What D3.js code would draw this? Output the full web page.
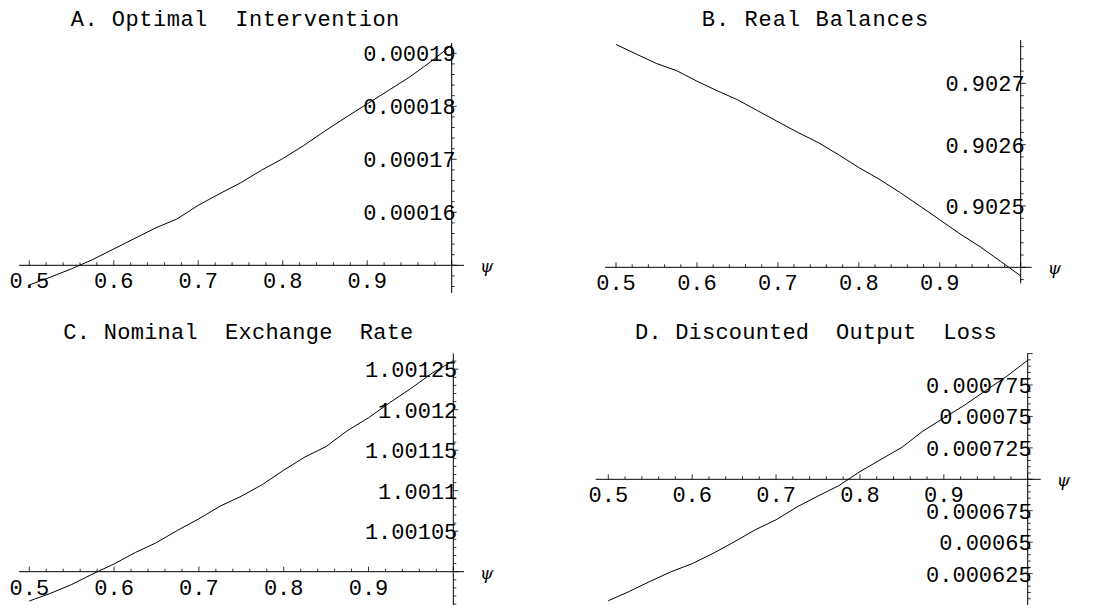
<!DOCTYPE html>
<html>
<head>
<meta charset="utf-8">
<script src="https://cdn.jsdelivr.net/npm/d3@7"></script>
<style>
  body { margin: 0; background: #fff; }
  text { font-family: "Liberation Mono", "Courier New", monospace; fill: #000; }
</style>
</head>
<body>
<svg id="chart" width="1103" height="608"></svg>
<script>
'use strict';

// psi grid
var psi = [0.5, 0.525, 0.55, 0.575, 0.6, 0.625, 0.65, 0.675, 0.7, 0.725, 0.75,
           0.775, 0.8, 0.825, 0.85, 0.875, 0.9, 0.925, 0.95, 0.975, 1.0];

var intervention = [1.4629e-4, 1.4777e-4, 1.4934e-4, 1.5108e-4, 1.5308e-4, 1.5509e-4, 1.5708e-4,
                    1.5876e-4, 1.6132e-4, 1.6349e-4, 1.6555e-4, 1.6796e-4, 1.7013e-4, 1.7261e-4,
                    1.7535e-4, 1.7794e-4, 1.8046e-4, 1.8297e-4, 1.8550e-4, 1.8838e-4, 1.9157e-4];

var realBalances = [0.9027636, 0.9027478, 0.9027325, 0.9027207, 0.9027036, 0.9026880, 0.9026734,
                    0.9026554, 0.9026375, 0.9026198, 0.9026034, 0.9025837, 0.9025627, 0.9025439,
                    0.9025228, 0.9025004, 0.9024776, 0.9024545, 0.9024334, 0.9024099, 0.9023859];

var exchangeRate = [1.0009638, 1.0009733, 1.0009842, 1.0009973, 1.0010096, 1.0010237, 1.0010359,
                    1.0010512, 1.0010653, 1.0010809, 1.0010932, 1.0011077, 1.0011253, 1.0011416,
                    1.0011545, 1.0011741, 1.0011900, 1.0012086, 1.0012262, 1.0012451, 1.0012605];

var outputLoss = [6.034e-4, 6.108e-4, 6.189e-4, 6.265e-4, 6.329e-4, 6.411e-4, 6.502e-4,
                  6.598e-4, 6.678e-4, 6.780e-4, 6.867e-4, 6.950e-4, 7.061e-4, 7.158e-4,
                  7.254e-4, 7.383e-4, 7.488e-4, 7.591e-4, 7.706e-4, 7.819e-4, 7.947e-4];

var titles = ["A. Optimal  Intervention", "B. Real Balances",
              "C. Nominal  Exchange  Rate", "D. Discounted  Output  Loss"];

var xTicks = [0.5, 0.6, 0.7, 0.8, 0.9];
var xTickLabels = ["0.5", "0.6", "0.7", "0.8", "0.9"];

var aTicks = [0.00016, 0.00017, 0.00018, 0.00019];
var aTickLabels = ["0.00016", "0.00017", "0.00018", "0.00019"];
var bTicks = [0.9025, 0.9026, 0.9027];
var bTickLabels = ["0.9025", "0.9026", "0.9027"];
var cTicks = [1.00105, 1.0011, 1.00115, 1.0012, 1.00125];
var cTickLabels = ["1.00105", "1.0011", "1.00115", "1.0012", "1.00125"];
var dTicks = [0.000625, 0.00065, 0.000675, 0.000725, 0.00075, 0.000775];
var dTickLabels = ["0.000625", "0.00065", "0.000675", "0.000725", "0.00075", "0.000775"];

// layout of each panel (pixels); origin = where the x axis crosses
var panels = [
    { title: titles[0], values: intervention, ticks: aTicks, labels: aTickLabels,
      origin: 0.00015, yRef: 0.00019, minor: 2e-6,
      px: [29.3, 451.7], py: [265.3, 53.3], ax: [19, 464], ay: [43, 293],
      tx: 70.7, tw: 328.6, ty: 26 },
    { title: titles[1], values: realBalances, ticks: bTicks, labels: bTickLabels,
      origin: 0.9024, yRef: 0.9027, minor: 2e-5,
      px: [616, 1020.7], py: [267.3, 83.4], ax: [605, 1031.7], ay: [40, 283.3],
      tx: 701.7, tw: 226.6, ty: 26 },
    { title: titles[2], values: exchangeRate, ticks: cTicks, labels: cTickLabels,
      origin: 1.001, yRef: 1.00125, minor: 1e-5,
      px: [29.3, 453.3], py: [571.7, 369.2], ax: [19, 464], ay: [353.3, 605],
      tx: 63.3, tw: 350, ty: 339.3 },
    { title: titles[3], values: outputLoss, ticks: dTicks, labels: dTickLabels,
      origin: 0.0007, yRef: 0.000775, minor: 5e-6,
      px: [608.3, 1027.7], py: [479.3, 385], ax: [595.7, 1040.7], ay: [353.3, 605],
      tx: 635, tw: 361.7, ty: 339.3 }
];

var svg = d3.select('#chart');
svg.append('rect').attr('width', 1103).attr('height', 608).attr('fill', '#fff');

panels.forEach(function(p) {
    var x = d3.scaleLinear().domain([0.5, 1.0]).range(p.px);
    var y = d3.scaleLinear().domain([p.origin, p.yRef]).range(p.py);
    var g = svg.append('g');
    var x0 = x(1.0), y0 = y(p.origin);

    g.append('text')
        .attr('x', p.tx).attr('y', p.ty)
        .attr('textLength', p.tw).attr('lengthAdjust', 'spacing')
        .style('font-size', '22px').style('white-space', 'pre')
        .text(p.title);

    // axes
    g.append('line').attr('x1', p.ax[0]).attr('x2', p.ax[1])
        .attr('y1', y0).attr('y2', y0).attr('stroke', '#000').attr('stroke-width', 1);
    g.append('line').attr('x1', x0).attr('x2', x0)
        .attr('y1', p.ay[0]).attr('y2', p.ay[1]).attr('stroke', '#000').attr('stroke-width', 1);

    // x ticks every 0.02, pointing up
    var kx = d3.range(Math.ceil(x.invert(p.ax[0]) / 0.02 - 1e-6), Math.floor(x.invert(p.ax[1]) / 0.02 + 1e-6) + 1);
    g.selectAll('.xt').data(kx).enter().append('line')
        .attr('x1', function(k) { return x(k * 0.02); })
        .attr('x2', function(k) { return x(k * 0.02); })
        .attr('y1', y0)
        .attr('y2', function(k) { return y0 - (k % 5 === 0 ? 5 : 3); })
        .attr('stroke', '#000').attr('stroke-width', 0.8);

    g.selectAll('.xl').data(xTicks).enter().append('text')
        .attr('x', function(d) { return x(d); })
        .attr('y', y0 + 23)
        .attr('text-anchor', 'middle')
        .style('font-size', '22px')
        .text(function(d, i) { return xTickLabels[i]; });

    // y ticks, pointing right
    var lo = y.invert(p.ay[1]), hi = y.invert(p.ay[0]);
    var ky = d3.range(Math.ceil(lo / p.minor - 1e-6), Math.floor(hi / p.minor + 1e-6) + 1);
    g.selectAll('.yt').data(ky).enter().append('line')
        .attr('x1', x0)
        .attr('x2', function(k) { return x0 + (k % 5 === 0 ? 5 : 3); })
        .attr('y1', function(k) { return y(k * p.minor); })
        .attr('y2', function(k) { return y(k * p.minor); })
        .attr('stroke', '#000').attr('stroke-width', 0.8);

    g.selectAll('.yl').data(p.ticks).enter().append('text')
        .attr('x', x0 + 4)
        .attr('y', function(d) { return y(d); })
        .attr('dy', '0.36em')
        .attr('text-anchor', 'end')
        .style('font-size', '22px')
        .text(function(d, i) { return p.labels[i]; });

    g.append('text')
        .attr('x', p.ax[1] + 16).attr('y', y0 + 7)
        .style('font-family', '"DejaVu Serif", serif')
        .style('font-style', 'italic')
        .style('font-size', '17px')
        .text('ψ');

    var line = d3.line()
        .x(function(d, i) { return x(psi[i]); })
        .y(function(d) { return y(d); });

    g.append('path')
        .datum(p.values)
        .attr('fill', 'none')
        .attr('stroke', '#000')
        .attr('stroke-width', 1)
        .attr('d', line);
});
</script>
</body>
</html>
